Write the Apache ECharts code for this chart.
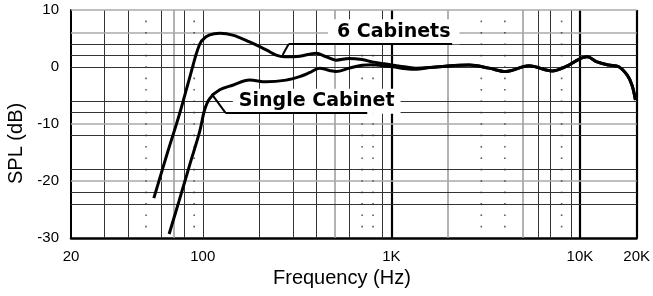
<!DOCTYPE html>
<html><head><meta charset="utf-8">
<script src="https://cdn.jsdelivr.net/npm/echarts@6/dist/echarts.min.js"></script>
<style>html,body{margin:0;padding:0;background:#fff}#c{width:653px;height:296px}</style>
</head><body><div id="c"></div>
<script>
// ---- data ----
const sixFreq = [55, 65, 75, 85, 96, 104, 115, 123, 144, 177, 217, 245, 271, 326, 399, 451, 509, 599, 700, 792, 900, 1011, 1200, 1349, 1600, 1791, 2583, 3297, 4040, 5367, 7130, 8395, 9865, 10920, 12330, 14220, 16070, 17790, 18900, 19700];
const sixDb   = [-23, -15.0, -8.4, -2.0, 3.9, 5.3, 5.85, 5.9, 5.6, 4.4, 3.0, 2.1, 1.8, 1.9, 2.4, 1.8, 1.2, 1.5, 1.3, 0.9, 0.6, 0.35, 0.0, -0.2, -0.1, 0.05, 0.35, -0.2, -0.8, 0.2, -0.7, 0.05, 1.35, 1.8, 0.9, 0.35, 0.05, -1.4, -3.2, -5.8];
const singleFreq = [66.3, 75, 85, 96.3, 102.3, 109, 123, 144, 177, 217, 277, 326, 368, 416, 469, 509, 599, 700, 800, 900, 1011, 1200, 1349, 1600, 1791, 2583, 3297, 4040, 5367, 7130, 8395, 9865, 10920, 12330, 14220, 16070, 17790, 18900, 19700];
const singleDb   = [-29.3, -23.4, -17.3, -11.3, -7.5, -5.5, -4.0, -3.2, -2.3, -2.6, -2.3, -1.7, -1.0, -0.2, -0.6, -0.8, -0.2, 0.3, 0.4, 0.2, 0.05, -0.3, -0.4, -0.1, 0.05, 0.35, -0.2, -0.8, 0.2, -0.7, 0.05, 1.35, 1.8, 0.9, 0.35, 0.05, -1.4, -3.2, -5.8];
const xTickValues = [20, 100, 1000, 10000, 20000];
const xTickLabels = ['20', '100', '1K', '10K', '20K'];
const yTickLabels = ['-30', '-20', '-10', '0', '10'];
const vDark = [30, 40, 60, 80, 100, 200, 300, 400, 600, 900, 6000, 7000, 9000];
const vGray = [70, 500, 2000, 5000];
const vDotted = [50, 90, 700, 800, 3000, 4000, 8000];
const vThick = [1000, 10000, 20000];
const hDark = [4, 2, 0, -6, -8, -12, -18, -22, -24];
const hGray = [10, 6, -10, -20];
const dotLevels = [-28, -26, -24, -22, -20, -18, -16, -14, -12, -10, -8, -6, -4, -2, 0, 2, 4, 6, 8];
const labelSix = '6 Cabinets';
const labelSingle = 'Single Cabinet';

// ---- chart ----
const FONT = 'Liberation Sans, Arial, sans-serif';
const chart = echarts.init(document.getElementById('c'), null, {renderer: 'canvas'});
const pair = (xs, ys) => xs.map((x, i) => [x, ys[i]]);
const gridLines = [];
vDark.forEach(f => gridLines.push({xAxis: f, lineStyle: {color: '#333', width: 1, type: 'solid'}}));
vGray.forEach(f => gridLines.push({xAxis: f, lineStyle: {color: '#999', width: 1.5, type: 'solid'}}));
vThick.forEach(f => gridLines.push({xAxis: f, lineStyle: {color: '#000', width: 2.2, type: 'solid'}}));
hDark.forEach(d => gridLines.push({yAxis: d, lineStyle: {color: '#333', width: 1, type: 'solid'}}));
hGray.forEach(d => gridLines.push({yAxis: d, lineStyle: {color: '#aaa', width: 1.5, type: 'solid'}}));
const dots = [];
vDotted.forEach(f => dotLevels.forEach(d => dots.push([f, d])));

const option = {
  animation: false,
  grid: {left: 71, top: 10, right: 15, bottom: 58},
  xAxis: {
    type: 'log', logBase: 10, min: 20, max: 20000,
    axisLine: {show: true, onZero: false, lineStyle: {color: '#000', width: 2.5}},
    axisTick: {show: false}, splitLine: {show: false}, minorSplitLine: {show: false},
    axisLabel: {
      fontFamily: FONT, fontSize: 15, color: '#000', margin: 11,
      showMinLabel: true, showMaxLabel: true, hideOverlap: false,
      formatter: v => { const i = xTickValues.indexOf(Math.round(v)); return i >= 0 ? xTickLabels[i] : ''; }
    }
  },
  yAxis: {
    type: 'value', min: -30, max: 10, interval: 10,
    axisLine: {show: true, onZero: false, lineStyle: {color: '#000', width: 2}},
    axisTick: {show: false}, splitLine: {show: false},
    axisLabel: {fontFamily: FONT, fontSize: 15, color: '#000', margin: 12,
      formatter: v => { const i = Math.round((v + 30) / 10); return yTickLabels[i] || ''; }}
  },
  graphic: [
    {type: 'text', left: 273, top: 268, style: {text: 'Frequency (Hz)', font: '20px ' + FONT, fill: '#000'}},
    {type: 'text', x: 6, y: 184, rotation: Math.PI / 2, style: {text: 'SPL (dB)', font: '20px ' + FONT, fill: '#000', textBaseline: 'top'}}
  ],
  series: [
    {type: 'line', data: [], silent: true, z: 1,
     markLine: {silent: true, z: 1, symbol: 'none', label: {show: false}, animation: false, data: gridLines}},
    {type: 'scatter', data: dots, symbol: 'rect', symbolSize: 1.6, silent: true, z: 1,
     itemStyle: {color: '#333'}},
    {type: 'line', name: labelSix, data: pair(sixFreq, sixDb), smooth: 0.35, showSymbol: false, z: 5,
     lineStyle: {color: '#000', width: 3}},
    {type: 'line', name: labelSingle, data: pair(singleFreq, singleDb), smooth: 0.35, showSymbol: false, z: 5,
     lineStyle: {color: '#000', width: 3}},
    {type: 'line', data: [], silent: true, z: 6,
     markPoint: {silent: true, z: 8, symbol: 'circle', symbolSize: 0, animation: false,
       label: {show: true, position: 'inside', color: '#000', fontFamily: 'DejaVu Sans', fontWeight: 'bold', fontSize: 19,
         backgroundColor: '#fff', lineHeight: 22},
       data: [
         {coord: [1029, 6.2], label: {formatter: labelSix, padding: [2, 9, 1, 9]}},
         {coord: [402, -6.0], label: {formatter: labelSingle, padding: [2, 6, 1, 6]}}
       ]}
    },
    {type: 'line', data: [], silent: true, z: 7,
     markLine: {silent: true, z: 12, symbol: 'none', label: {show: false}, animation: false,
       lineStyle: {color: '#000', width: 2, type: 'solid'},
       data: [
         [{coord: [285, 4]}, {coord: [2100, 4]}],
         [{coord: [285, 4]}, {coord: [265, 2.1]}],
         [{coord: [131.7, -8]}, {coord: [745, -8]}],
         [{coord: [131.7, -8]}, {coord: [111.4, -4.7]}]
       ]}
    }
  ]
};
chart.setOption(option);
</script>
</body></html>
